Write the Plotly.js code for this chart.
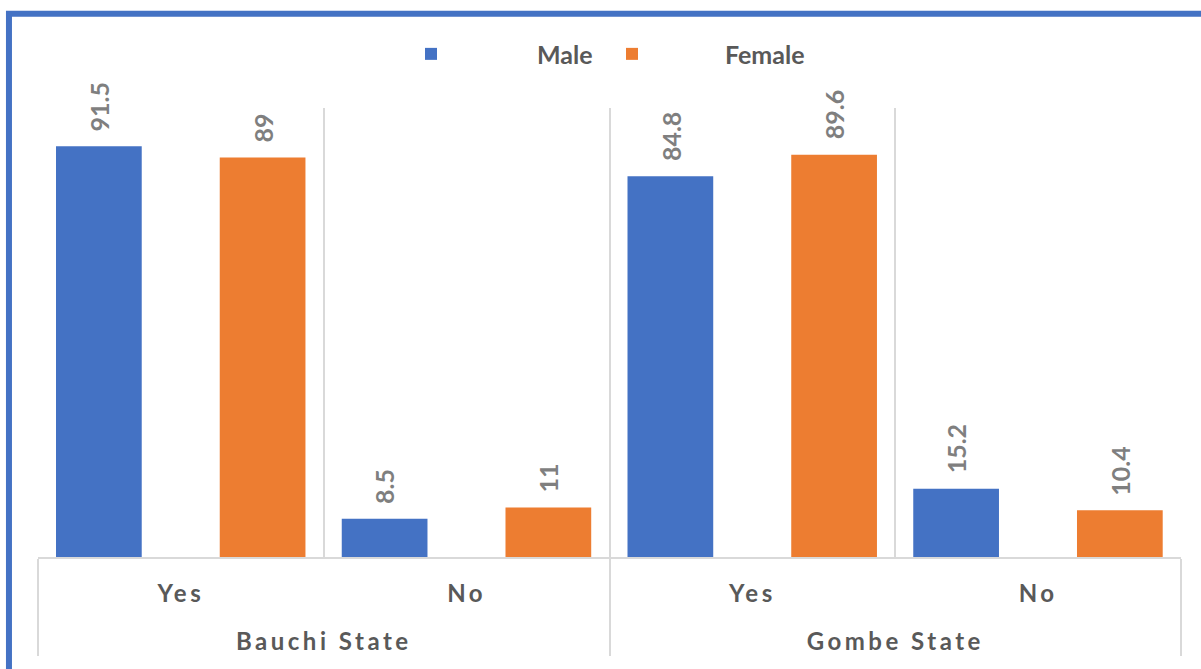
<!DOCTYPE html>
<html>
<head>
<meta charset="utf-8">
<script src="https://cdn.plot.ly/plotly-3.0.1.min.js"></script>
<style>
  html, body { margin: 0; padding: 0; background: #ffffff; }
  #chart { width: 1201px; height: 669px; }
  .xaxislayer-above text { letter-spacing: 3.5px; }
</style>
</head>
<body>
<div id="chart"></div>
<script>
// ---- data ----
const states = ["Bauchi State", "Bauchi State", "Gombe State", "Gombe State"];
const answers = ["Yes", "No", "Yes", "No"];
const seriesNames = ["Male", "Female"];
const maleValues = [91.5, 8.5, 84.8, 15.2];
const femaleValues = [89, 11, 89.6, 10.4];

// ---- styles ----
const colors = ["#4472c4", "#ed7d31"];
const barWidth = 0.3;
const offsets = [-0.437, 0.136];
const fontFamily = "Lato, 'Open Sans', sans-serif";
const legendIds = ["legend", "legend2"];

// outer labels get a leading blank line to sit lower, as in the original
const outerLabels = states.map(s => "<br>" + s);

const allValues = [maleValues, femaleValues];
const traces = allValues.map((vals, k) => ({
  type: "bar",
  name: seriesNames[k],
  legend: legendIds[k],
  x: [outerLabels, answers],
  y: vals,
  width: barWidth,
  offset: offsets[k],
  marker: { color: colors[k], line: { width: 0 } },
  hoverinfo: "skip"
}));

const annotations = [];
allValues.forEach((vals, k) => {
  vals.forEach((v, i) => {
    annotations.push({
      x: i + offsets[k] + barWidth / 2,
      xref: "x",
      y: v,
      yref: "y",
      text: String(v),
      textangle: -90,
      showarrow: false,
      xanchor: "center",
      yanchor: "bottom",
      yshift: 13,
      font: { family: fontFamily, size: 25, color: "#7f7f7f", weight: "bold" }
    });
  });
});

const legendFont = { family: fontFamily, size: 25, color: "#595959", weight: "bold" };

const layout = {
  width: 1201,
  height: 669,
  margin: { l: 38, r: 20, t: 108, b: 112 },
  paper_bgcolor: "#ffffff",
  plot_bgcolor: "#ffffff",
  barmode: "group",
  showlegend: true,
  legend: {
    orientation: "h",
    x: 0.2511, xanchor: "left",
    y: 1.12, yanchor: "middle",
    itemwidth: 202,
    font: legendFont,
    bgcolor: "rgba(0,0,0,0)"
  },
  legend2: {
    orientation: "h",
    x: 0.4383, xanchor: "left",
    y: 1.12, yanchor: "middle",
    itemwidth: 176,
    font: legendFont,
    bgcolor: "rgba(0,0,0,0)"
  },
  xaxis: {
    type: "multicategory",
    showgrid: true,
    tickson: "boundaries",
    gridcolor: "#d9d9d9",
    gridwidth: 2,
    showline: true,
    linecolor: "#d9d9d9",
    linewidth: 2,
    ticks: "",
    ticklabelstandoff: 14,
    showdividers: true,
    dividercolor: "#d9d9d9",
    dividerwidth: 2,
    tickfont: { family: fontFamily, size: 24, color: "#595959", weight: "bold" },
    fixedrange: true
  },
  yaxis: {
    range: [0, 100],
    visible: false,
    showgrid: false,
    zeroline: false,
    fixedrange: true
  },
  annotations: annotations,
  shapes: [{
    type: "rect",
    xref: "paper", yref: "paper",
    x0: -0.0254, x1: 1.03,
    y0: -0.28, y1: 1.2098,
    line: { color: "#4472c4", width: 6 },
    fillcolor: "rgba(0,0,0,0)",
    layer: "below"
  }]
};

Plotly.newPlot("chart", traces, layout, { displayModeBar: false, staticPlot: true });
</script>
</body>
</html>
